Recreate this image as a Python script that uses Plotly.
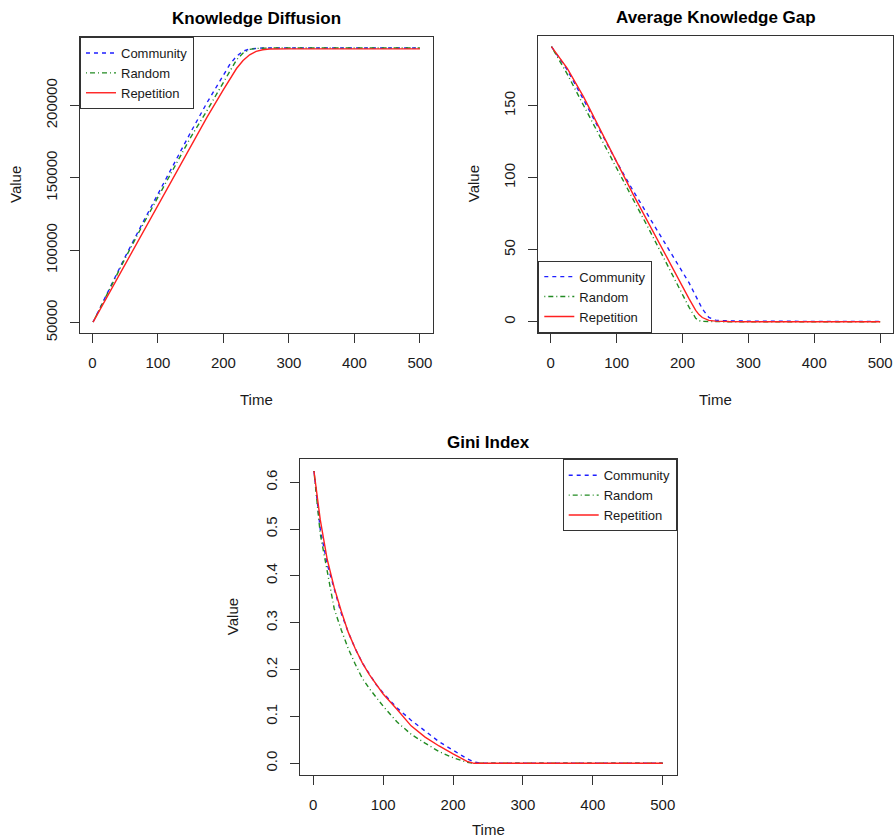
import plotly.graph_objects as go

# ---------------- data ----------------
series_names = ["Community", "Random", "Repetition"]

# Knowledge Diffusion
t_kd = [1, 25, 50, 75, 100, 125, 150, 175, 200, 210, 220, 230, 240, 250, 260, 270, 280, 300, 400, 500]
kd_community = [50500, 73000, 95500, 117500, 139000, 160500, 181500, 202000, 221500, 228500, 234000,
                237500, 239000, 239600, 239700, 239700, 239700, 239700, 239700, 239700]
kd_random = [50500, 72500, 94500, 116000, 137000, 158000, 178000, 196500, 216500, 224500, 231500,
             236200, 238700, 239400, 239600, 239700, 239700, 239700, 239700, 239700]
kd_repetition = [50500, 70000, 90500, 111000, 131500, 152000, 172000, 192000, 211000, 218500, 225500,
                 231000, 235000, 237300, 238500, 239000, 239100, 239100, 239100, 239100]

# Average Knowledge Gap
t_gap = [1, 25, 50, 75, 100, 125, 150, 175, 200, 210, 220, 225, 230, 240, 250, 260, 270, 300, 400, 500]
gap_community = [191, 175, 154, 132.5, 111, 91, 72, 53, 34, 27, 18, 13.5, 9, 3, 1.2, 0.8, 0.6, 0.5, 0.3, 0.3]
gap_random = [191, 172, 150, 128, 106, 85, 63.5, 41.5, 19, 10, 2.5, 0.8, 0.3, 0.1, 0.1, 0.1, 0.1, 0.1, 0.1, 0.1]
gap_repetition = [191, 176, 156, 134, 111, 88.5, 67, 45.5, 24.5, 16, 8, 5, 3, 1, 0.5, 0.3, 0.2, 0.1, 0.1, 0.1]

# Gini Index
t_gini = [1, 10, 20, 30, 40, 50, 60, 70, 80, 90, 100, 120, 140, 160, 180, 200, 220, 230, 240, 260, 300, 400, 500]
gini_community = [0.624, 0.50, 0.425, 0.37, 0.32, 0.28, 0.245, 0.215, 0.19, 0.168, 0.15, 0.118, 0.092,
                  0.068, 0.046, 0.028, 0.01, 0.003, 0.0, 0.0, 0.0, 0.0, 0.0]
gini_random = [0.624, 0.49, 0.41, 0.33, 0.285, 0.245, 0.212, 0.182, 0.16, 0.14, 0.122, 0.088, 0.062,
               0.043, 0.025, 0.012, 0.002, 0.0, 0.0, 0.0, 0.0, 0.0, 0.0]
gini_repetition = [0.624, 0.52, 0.435, 0.375, 0.325, 0.28, 0.245, 0.215, 0.19, 0.168, 0.148, 0.115, 0.08,
                   0.056, 0.037, 0.02, 0.004, 0.0, 0.0, 0.0, 0.0, 0.0, 0.0]

titles = ["Knowledge Diffusion", "Average Knowledge Gap", "Gini Index"]
x_ticks = [0, 100, 200, 300, 400, 500]
kd_ticks = [50000, 100000, 150000, 200000]
gap_ticks = [0, 50, 100, 150]
gini_ticks = [0.0, 0.1, 0.2, 0.3, 0.4, 0.5, 0.6]

# ---------------- style ----------------
W, H = 896, 840
FONT = "Liberation Sans, Arial, sans-serif"
colors = ["#1f1fff", "#228B22", "#ff2020"]
dashes = ["4px,4px", "1px,3px,5px,3px", "solid"]
AX = "#333333"

# panel boxes in pixels (left, right, top, bottom)
boxes = [(80, 433, 37, 333), (538.3, 893.3, 35.7, 332.7), (300, 676.7, 459.3, 775)]


def px_x(x):
    return x / W


def px_y(y):
    return 1 - y / H


def ext(vals):
    lo, hi = min(vals), max(vals)
    d = (hi - lo) * 0.04
    return [lo - d, hi + d]


fig = go.Figure()

panels = [
    (t_kd, [kd_community, kd_random, kd_repetition], "legend", kd_ticks, "d"),
    (t_gap, [gap_community, gap_random, gap_repetition], "legend2", gap_ticks, "d"),
    (t_gini, [gini_community, gini_random, gini_repetition], "legend3", gini_ticks, ".1f"),
]

for i, (tt, ys, leg, yt, yfmt) in enumerate(panels):
    sfx = "" if i == 0 else str(i + 1)
    for name, y, c, d in zip(series_names, ys, colors, dashes):
        fig.add_trace(go.Scatter(
            x=tt, y=y, mode="lines", name=name,
            line=dict(color=c, width=1.4, dash=d),
            xaxis="x" + sfx, yaxis="y" + sfx, legend=leg,
        ))
    l, r, t, b = boxes[i]
    allv = [v for s in ys for v in s]
    common = dict(showline=True, linecolor=AX, linewidth=1, mirror=True,
                  ticks="outside", ticklen=9, tickcolor=AX, tickwidth=1,
                  showgrid=False, zeroline=False, ticklabelstandoff=7, automargin=False,
                  tickfont=dict(family=FONT, size=15, color="#1a1a1a"))
    fig.update_layout(**{
        "xaxis" + sfx: dict(domain=[px_x(l), px_x(r)], range=ext(tt), tickvals=x_ticks,
                            anchor="y" + sfx, **common),
        "yaxis" + sfx: dict(domain=[px_y(b), px_y(t)], range=ext(allv), tickvals=yt,
                            tickformat=yfmt, tickangle=-90, anchor="x" + sfx, **common),
    })
    cx = (l + r) / 2
    cy = (t + b) / 2
    # title
    title_y = [18, 17, 442][i]
    fig.add_annotation(text="<b>" + titles[i] + "</b>", x=px_x(cx), y=px_y(title_y),
                       xref="paper", yref="paper", showarrow=False,
                       font=dict(family=FONT, size=17, color="black"),
                       xanchor="center", yanchor="middle")
    # x title
    fig.add_annotation(text="Time", x=px_x(cx), y=px_y([399, 399, 829][i]),
                       xref="paper", yref="paper", showarrow=False,
                       font=dict(family=FONT, size=15, color="#1a1a1a"),
                       xanchor="center", yanchor="middle")
    # y title
    fig.add_annotation(text="Value", x=px_x([15, 473, 232][i]), y=px_y(cy),
                       xref="paper", yref="paper", showarrow=False, textangle=-90,
                       font=dict(family=FONT, size=15, color="#1a1a1a"),
                       xanchor="center", yanchor="middle")

leg_common = dict(bordercolor=AX, borderwidth=1, bgcolor="white",
                  font=dict(family=FONT, size=13, color="#1a1a1a"),
                  itemwidth=30, tracegroupgap=0)
fig.update_layout(
    width=W, height=H, margin=dict(l=0, r=0, t=0, b=0, autoexpand=False),
    paper_bgcolor="white", plot_bgcolor="white", showlegend=True,
    legend=dict(x=px_x(80), y=px_y(37), xanchor="left", yanchor="top", **leg_common),
    legend2=dict(x=px_x(538.3), y=px_y(332.7), xanchor="left", yanchor="bottom", **leg_common),
    legend3=dict(x=px_x(676.7), y=px_y(459.3), xanchor="right", yanchor="top", **leg_common),
)

fig.write_html("out.html")
